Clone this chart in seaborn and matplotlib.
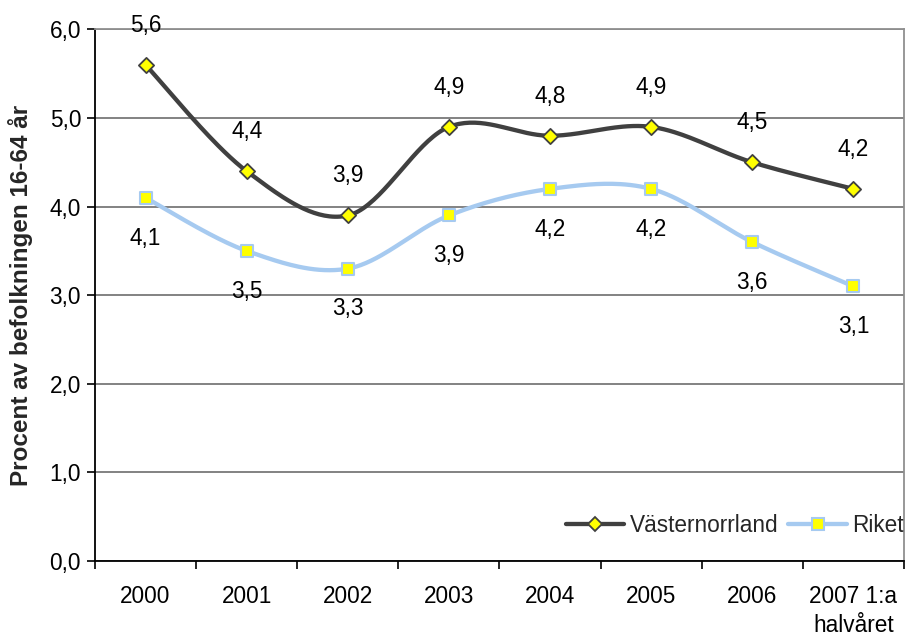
import numpy as np
import pandas as pd
import matplotlib
matplotlib.use("Agg")
import matplotlib.pyplot as plt
from matplotlib.lines import Line2D
import seaborn as sns

# Data
years = ["2000", "2001", "2002", "2003", "2004", "2005", "2006", "2007 1:a\nhalvåret"]
vasternorrland = [5.6, 4.4, 3.9, 4.9, 4.8, 4.9, 4.5, 4.2]
riket = [4.1, 3.5, 3.3, 3.9, 4.2, 4.2, 3.6, 3.1]
y_ticks = [0, 1, 2, 3, 4, 5, 6]

sns.set_theme(style="white")
plt.rcParams["font.family"] = ["Liberation Sans", "DejaVu Sans"]

DARK = "#404040"
LIGHT = "#A6CAF0"
YELLOW = "#FFFF00"
FS = 16.3


def smooth(xs, ys, n=40):
    """Bezier smoothing through every point (Catmull-Rom style control points)."""
    xs = np.asarray(xs, float)
    ys = np.asarray(ys, float)
    px = np.concatenate([[xs[0]], xs, [xs[-1]]])
    py = np.concatenate([[ys[0]], ys, [ys[-1]]])
    out_x, out_y = [], []
    t = np.linspace(0, 1, n)
    for i in range(1, len(px) - 2):
        p0 = np.array([px[i], py[i]])
        p3 = np.array([px[i + 1], py[i + 1]])
        c1 = p0 + (np.array([px[i + 1], py[i + 1]]) - np.array([px[i - 1], py[i - 1]])) / 6
        c2 = p3 - (np.array([px[i + 2], py[i + 2]]) - np.array([px[i], py[i]])) / 6
        b = ((1 - t) ** 3)[:, None] * p0 + (3 * (1 - t) ** 2 * t)[:, None] * c1 \
            + (3 * (1 - t) * t ** 2)[:, None] * c2 + (t ** 3)[:, None] * p3
        out_x.extend(b[:, 0])
        out_y.extend(b[:, 1])
    return np.array(out_x), np.array(out_y)


xpos = np.arange(len(years))

fig = plt.figure(figsize=(9.08, 6.36), dpi=100)
ax = fig.add_axes([0.1046, 0.1180, 0.8910, 0.8357])

for vals, color in [(vasternorrland, DARK), (riket, LIGHT)]:
    sx, sy = smooth(xpos, vals)
    curve = pd.DataFrame({"x": sx, "y": sy})
    sns.lineplot(data=curve, x="x", y="y", sort=False, color=color, lw=3.1,
                 ax=ax, zorder=3)

pts_v = pd.DataFrame({"x": xpos, "y": vasternorrland})
pts_r = pd.DataFrame({"x": xpos, "y": riket})
sns.scatterplot(data=pts_v, x="x", y="y", marker="D", s=60, color=YELLOW,
                edgecolor=DARK, linewidth=1.3, ax=ax, zorder=5)
sns.scatterplot(data=pts_r, x="x", y="y", marker="s", s=75, color=YELLOW,
                edgecolor=LIGHT, linewidth=1.5, ax=ax, zorder=5)

# Value labels
for x, v in zip(xpos, vasternorrland):
    ax.annotate(f"{v:.1f}".replace(".", ","), (x, v), xytext=(0, 28.5),
                textcoords="offset points", ha="center", va="center",
                fontsize=FS, color="black", annotation_clip=False)
for x, v in zip(xpos, riket):
    ax.annotate(f"{v:.1f}".replace(".", ","), (x, v), xytext=(0, -29),
                textcoords="offset points", ha="center", va="center",
                fontsize=FS, color="black", annotation_clip=False)

# Axes
ax.set_xlim(-0.5, len(years) - 0.5)
ax.set_ylim(0, 6)
ax.set_yticks(y_ticks)
ax.set_yticklabels([f"{t:.1f}".replace(".", ",") for t in y_ticks], fontsize=FS)
ax.set_xticks(xpos)
ax.set_xticklabels(years, fontsize=FS, linespacing=1.35, va="top")
ax.set_xticks(np.arange(len(years) + 1) - 0.5, minor=True)
ax.tick_params(axis="x", which="major", length=0, pad=17, colors="black")
ax.tick_params(axis="x", which="minor", length=6, width=1.2, color="black",
               direction="out", bottom=True)
ax.tick_params(axis="y", length=6, width=1.2, color="black", direction="out",
               left=True, pad=4, colors="black")
ax.set_xlabel("")
ax.set_ylabel("Procent av befolkningen 16-64 år", fontsize=17.5,
              fontweight="bold", labelpad=12)

ax.grid(axis="y", color="#606060", lw=1.1)
ax.grid(axis="x", visible=False)
ax.set_axisbelow(True)
for side in ["left", "bottom"]:
    ax.spines[side].set_color("black")
    ax.spines[side].set_linewidth(1.3)
for side in ["top", "right"]:
    ax.spines[side].set_color("#909090")
    ax.spines[side].set_linewidth(1.3)

handles = [
    Line2D([], [], color=DARK, lw=3.1, marker="D", markersize=7.5,
           markerfacecolor=YELLOW, markeredgecolor=DARK, markeredgewidth=1.3),
    Line2D([], [], color=LIGHT, lw=3.1, marker="s", markersize=8,
           markerfacecolor=YELLOW, markeredgecolor=LIGHT, markeredgewidth=1.5),
]
ax.legend(handles, ["Västernorrland", "Riket"], loc="center right",
          bbox_to_anchor=(1.0, 0.066), ncol=2, frameon=False, fontsize=FS,
          handlelength=2.6, handletextpad=0.23, columnspacing=0.45, borderpad=0,
          borderaxespad=0)

fig.savefig("out.png", dpi=100)
